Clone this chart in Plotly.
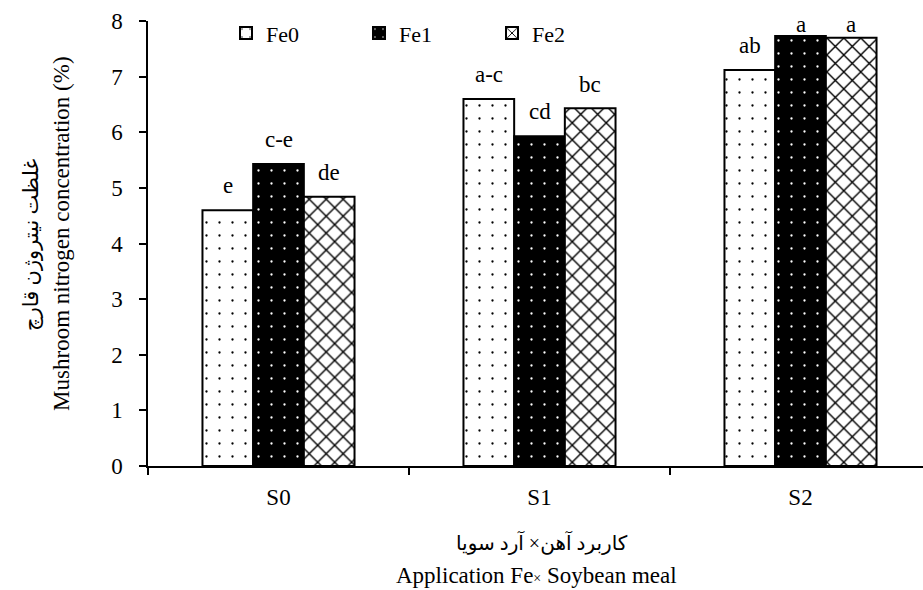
import plotly.graph_objects as go

categories = ["S0", "S1", "S2"]
series_names = ["Fe0", "Fe1", "Fe2"]
fe0 = [4.60, 6.60, 7.12]
fe1 = [5.43, 5.93, 7.73]
fe2 = [4.84, 6.43, 7.70]
letters_fe0 = ["e", "a-c", "ab"]
letters_fe1 = ["c-e", "cd", "a"]
letters_fe2 = ["de", "bc", "a"]
y_ticks = [0, 1, 2, 3, 4, 5, 6, 7, 8]

W, H = 923, 590
L, R, T, B = 148, 0, 20.7, 123.5
PW, PH = W - L - R, H - T - B
FONT = "Liberation Serif, Times New Roman, serif"
FA_FONT = "Liberation Serif, DejaVu Sans, serif"

def px_x(p):
    return (p - L) / PW

def px_y(p):
    return (H - B - p) / PH

styles = [
    dict(bg="white", fg="black", shape=".", size=13, solidity=0.025),
    dict(bg="black", fg="white", shape=".", size=13, solidity=0.025),
    dict(bg="white", fg="black", shape="x", size=12, solidity=0.22),
]

fig = go.Figure()
for name, vals, st in zip(series_names, [fe0, fe1, fe2], styles):
    fig.add_trace(go.Bar(
        name=name, x=categories, y=vals,
        marker=dict(
            color=st["bg"],
            line=dict(color="black", width=2),
            pattern=dict(shape=st["shape"], bgcolor=st["bg"], fgcolor=st["fg"],
                         size=st["size"], solidity=st["solidity"], fillmode="replace"),
        ),
    ))

bargap = 0.4174
bw = (1 - bargap) / 3
y_max_label = 7.80
annos = []
for j, (vals, labs) in enumerate(zip([fe0, fe1, fe2], [letters_fe0, letters_fe1, letters_fe2])):
    for i, (v, lab) in enumerate(zip(vals, labs)):
        base = min(v + 0.30, y_max_label)
        annos.append(dict(x=i + (j - 1) * bw, y=base, xref="x", yref="y",
                          text=lab, showarrow=False, yanchor="bottom", yshift=-7,
                          font=dict(family=FONT, size=23, color="black")))

annos += [
    dict(x=px_x(31), y=px_y(245), xref="paper", yref="paper", text="غلظت نیتروژن قارچ",
         textangle=-90, showarrow=False, xanchor="center", yanchor="middle",
         font=dict(family=FA_FONT, size=21, color="black")),
    dict(x=px_x(62), y=px_y(234), xref="paper", yref="paper",
         text="Mushroom nitrogen concentration (%)",
         textangle=-90, showarrow=False, xanchor="center", yanchor="middle",
         font=dict(family=FONT, size=23, color="black")),
    dict(x=px_x(542), y=px_y(543), xref="paper", yref="paper", text="کاربرد آهن× آرد سویا",
         showarrow=False, xanchor="center", yanchor="middle",
         font=dict(family=FA_FONT, size=20, color="black")),
    dict(x=px_x(536), y=px_y(576), xref="paper", yref="paper",
         text="Application Fe<span style='font-size:14px'>×</span> Soybean meal",
         showarrow=False, xanchor="center", yanchor="middle",
         font=dict(family=FONT, size=23, color="black")),
]

fig.update_layout(
    width=W, height=H,
    margin=dict(l=L, r=R, t=T, b=B, pad=0),
    paper_bgcolor="white", plot_bgcolor="white",
    barmode="group", bargap=bargap, bargroupgap=0,
    font=dict(family=FONT, size=23, color="black"),
    showlegend=True,
    legend=dict(orientation="h", x=px_x(226), y=px_y(33), xanchor="left", yanchor="middle",
                entrywidth=88, entrywidthmode="pixels", bgcolor="rgba(0,0,0,0)",
                font=dict(family=FONT, size=22, color="black"), itemclick=False),
    annotations=annos,
    xaxis=dict(
        range=[-0.5, 2.5 - 8 / 261], showline=True, linecolor="black", linewidth=1.5,
        ticks="outside", tickson="boundaries", ticklen=7, tickwidth=1.5, tickcolor="black",
        showgrid=False, zeroline=False, ticklabelstandoff=10,
        tickfont=dict(family=FONT, size=23, color="black"),
    ),
    yaxis=dict(
        range=[0, 8], tickvals=y_ticks, showline=True, linecolor="black", linewidth=1.5,
        ticks="outside", ticklen=7, tickwidth=1.5, tickcolor="black",
        showgrid=False, zeroline=False, ticklabelstandoff=12,
        tickfont=dict(family=FONT, size=23, color="black"),
    ),
)

fig.write_html("out.html")
